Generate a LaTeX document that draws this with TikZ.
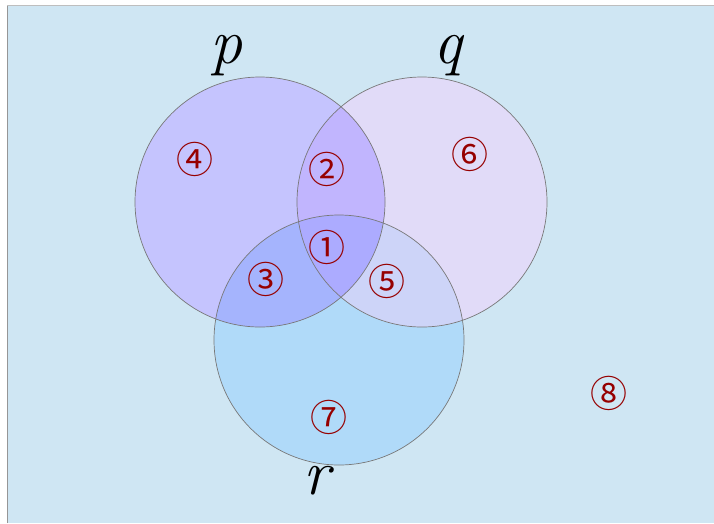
\documentclass[tikz,border=0pt]{standalone}
\usepackage{fontspec}
\newfontfamily\circfont{Noto Sans CJK JP}
\usetikzlibrary{positioning}

\definecolor{bgblue}{RGB}{207,230,243}
\definecolor{framegray}{RGB}{150,150,150}
\definecolor{topgray}{RGB}{190,190,190}
\definecolor{ringgray}{RGB}{120,120,120}
\definecolor{numred}{RGB}{150,0,0}
\definecolor{ponly}{RGB}{197,196,254}
\definecolor{qonly}{RGB}{225,219,248}
\definecolor{ronly}{RGB}{176,218,249}
\definecolor{pqcol}{RGB}{193,181,254}
\definecolor{prcol}{RGB}{165,180,253}
\definecolor{qrcol}{RGB}{205,212,248}
\definecolor{pqrcol}{RGB}{172,171,255}

\begin{document}
\begin{tikzpicture}[x=1pt, y=-1pt,
    setlabel/.style={font=\fontsize{64}{70}\selectfont\itshape, inner sep=0pt},
    region/.style={font=\circfont\fontsize{37}{42}\selectfont, text=numred, inner sep=0pt},
    ring/.style={draw=ringgray, line width=0.7pt}]

    \useasboundingbox (0,0) rectangle (714,523);
    \fill[bgblue] (7,5) rectangle (714,523);
    \draw[framegray, line width=0.8pt] (7,523) -- (7,5);
    \draw[topgray, line width=0.8pt] (7,5) -- (714,5);

    % centres of the three sets
    \coordinate (pc) at (260,202);
    \coordinate (qc) at (422,202);
    \coordinate (rc) at (339,340);

    % single sets
    \fill[ronly] (rc) circle[radius=125pt];
    \fill[qonly] (qc) circle[radius=125pt];
    \fill[ponly] (pc) circle[radius=125pt];

    % pairwise overlaps
    \begin{scope}
        \clip (pc) circle[radius=125pt];
        \fill[pqcol] (qc) circle[radius=125pt];
        \fill[prcol] (rc) circle[radius=125pt];
    \end{scope}
    \begin{scope}
        \clip (qc) circle[radius=125pt];
        \clip (rc) circle[radius=125pt];
        \fill[qrcol] (qc) circle[radius=125pt];
        \clip (pc) circle[radius=125pt];
        \fill[pqrcol] (pc) circle[radius=125pt];
    \end{scope}

    % outlines
    \draw[ring] (pc) circle[radius=125pt];
    \draw[ring] (qc) circle[radius=125pt];
    \draw[ring] (rc) circle[radius=125pt];

    % set names
    \node[setlabel] (plab) at (226,56) {p};
    \node[setlabel] (qlab) at (448,56) {q};
    \node[setlabel] (rlab) at (317,481) {r};

    % region numbers
    \node[region] (n1) at (327,247) {①};
    \node[region] (n2) at (327,169) {②};
    \node[region] (n3) at (266,279) {③};
    \node[region] (n4) at (195,159) {④};
    \node[region] (n5) at (387,281) {⑤};
    \node[region] (n6) at (470,154) {⑥};
    \node[region] (n7) at (329,417) {⑦};
    \node[region] (n8) at (609,393) {⑧};

\end{tikzpicture}
\end{document}
